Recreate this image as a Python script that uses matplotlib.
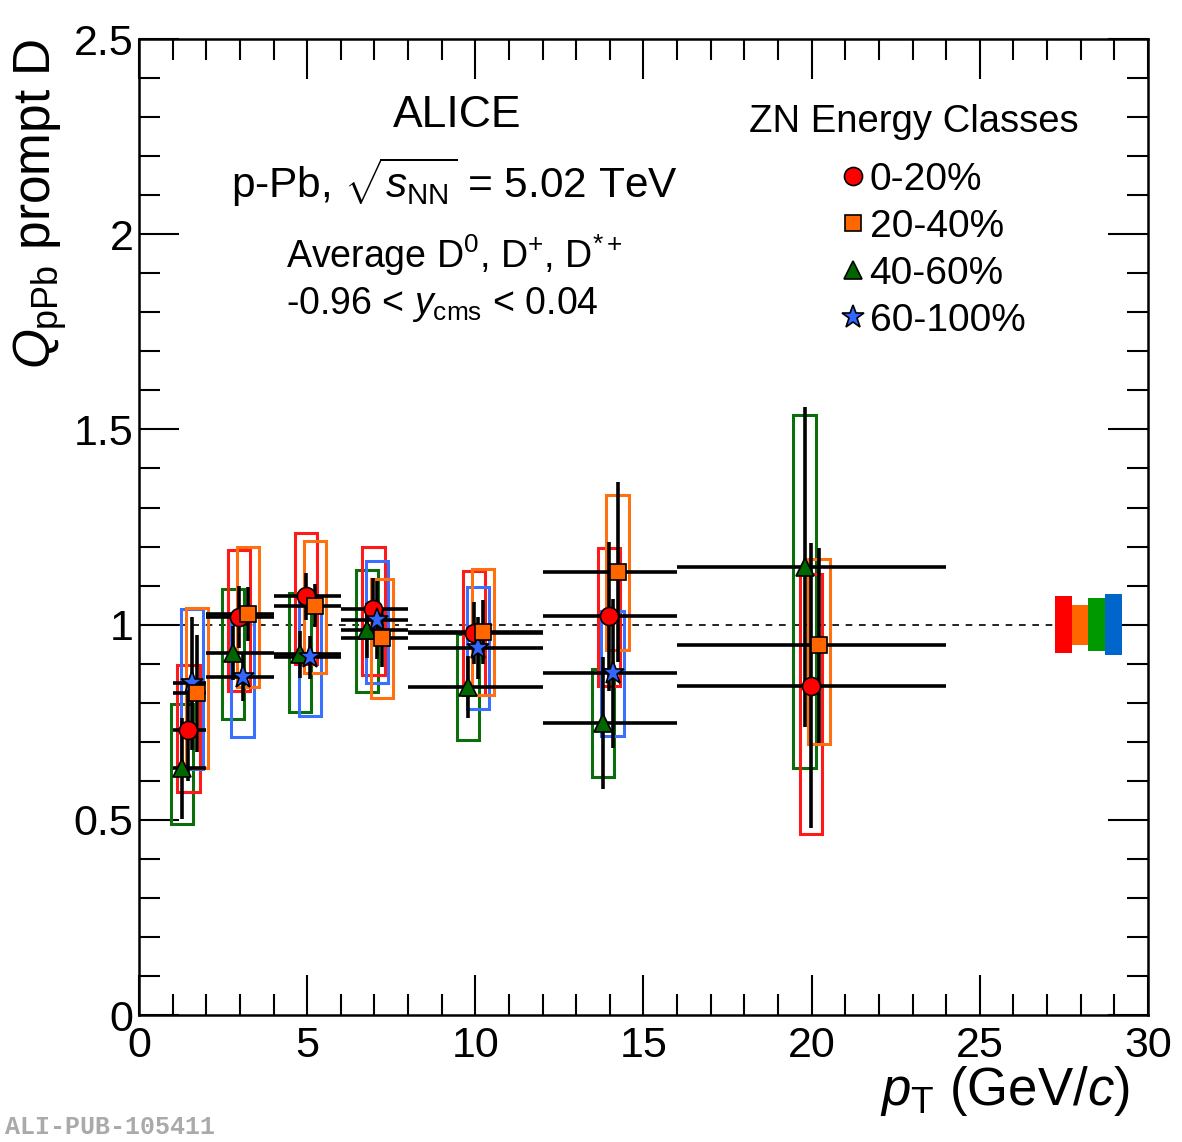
import numpy as np
import matplotlib
matplotlib.use("Agg")
import matplotlib.pyplot as plt
from matplotlib.patches import Rectangle
from matplotlib.lines import Line2D
from matplotlib.ticker import MultipleLocator, FuncFormatter

plt.rcParams['font.family'] = ['Liberation Sans', 'DejaVu Sans']
plt.rcParams['mathtext.fontset'] = 'custom'
plt.rcParams['mathtext.rm'] = 'Liberation Sans'
plt.rcParams['mathtext.it'] = 'Liberation Sans:italic'
plt.rcParams['mathtext.bf'] = 'Liberation Sans:bold'

# ------------------------------------------------------------------
# dati: bin in pT e Q_pPb per le quattro classi ZN
# ------------------------------------------------------------------
bin_lo = [1, 2, 4, 6, 8, 12, 16]
bin_hi = [2, 4, 6, 8, 12, 16, 24]

class_labels = ['0-20%', '20-40%', '40-60%', '60-100%']

q_0_20 = [0.730, 1.020, 1.073, 1.040, 0.979, 1.021, 0.843]
stat_0_20 = [0.13, 0.08, 0.06, 0.08, 0.08, 0.19, 0.365]
syslo_0_20 = [0.160, 0.190, 0.174, 0.170, 0.160, 0.179, 0.380]
syshi_0_20 = [0.166, 0.170, 0.162, 0.160, 0.159, 0.175, 0.286]

q_20_40 = [0.824, 1.027, 1.048, 0.967, 0.981, 1.135, 0.947]
stat_20_40 = [0.15, 0.07, 0.055, 0.075, 0.083, 0.23, 0.25]
syslo_20_40 = [0.192, 0.187, 0.173, 0.154, 0.162, 0.201, 0.253]
syshi_20_40 = [0.218, 0.171, 0.165, 0.151, 0.161, 0.196, 0.220]

q_40_60 = [0.632, 0.927, 0.924, 0.985, 0.840, 0.748, 1.148]
stat_40_60 = [0.13, 0.07, 0.06, 0.07, 0.08, 0.17, 0.41]
syslo_40_60 = [0.142, 0.169, 0.148, 0.158, 0.136, 0.138, 0.516]
syshi_40_60 = [0.164, 0.163, 0.156, 0.154, 0.135, 0.138, 0.389]

q_60_100 = [0.850, 0.865, 0.916, 1.011, 0.940, 0.875]
stat_60_100 = [0.17, 0.06, 0.055, 0.10, 0.08, 0.19]
syslo_60_100 = [0.220, 0.153, 0.151, 0.160, 0.157, 0.161]
syshi_60_100 = [0.190, 0.155, 0.154, 0.152, 0.156, 0.159]

# incertezze di normalizzazione (box pieni a destra)
norm_unc = [0.073, 0.051, 0.068, 0.078]

series = [
    # valori, stat, sys-, sys+, marker, colore, colore box, spostamento in x, ms
    (q_40_60, stat_40_60, syslo_40_60, syshi_40_60, '^', '#006600', '#0a6e0a', -0.21, 13),
    (q_0_20, stat_0_20, syslo_0_20, syshi_0_20, 'o', '#ff0000', '#ff1a1a', -0.03, 13),
    (q_60_100, stat_60_100, syslo_60_100, syshi_60_100, '*', '#3366ff', '#3a70ff', 0.08, 17),
    (q_20_40, stat_20_40, syslo_20_40, syshi_20_40, 's', '#ff6600', '#ff7010', 0.23, 12),
]
norm_colors = ['#ff0000', '#ff6600', '#009900', '#0066cc']
box_w = 0.66

fig = plt.figure(figsize=(11.82, 11.42), dpi=100)
ax = fig.add_axes([0.1176, 0.1112, 0.8536, 0.8546])

ax.axhline(1, color='k', lw=1.2, ls=(0, (4, 4)), zorder=1)

for vals, st, slo, shi, mk, col, bcol, dx, ms in series:
    n = len(vals)
    lo = np.array(bin_lo[:n], dtype=float)
    hi = np.array(bin_hi[:n], dtype=float)
    x = (lo + hi) / 2 + dx
    y = np.array(vals)
    for xi, yi, a, b in zip(x, y, slo, shi):
        ax.add_patch(Rectangle((xi - box_w / 2, yi - a), box_w, a + b,
                               fill=False, ec=bcol, lw=2.2, zorder=2))
    ax.errorbar(x, y, yerr=st, xerr=[x - lo, hi - x], fmt='none',
                ecolor='k', elinewidth=2.6, capsize=0, zorder=3)
    ax.plot(x, y, ls='none', marker=mk, ms=ms, mfc=col, mec='k', mew=1.2, zorder=4)

# box di normalizzazione globale
for i, (u, c) in enumerate(zip(norm_unc, norm_colors)):
    ax.add_patch(Rectangle((27.23 + 0.5 * i, 1 - u), 0.5, 2 * u, fc=c, ec='none', zorder=5))

ax.set_xlim(0, 30)
ax.set_ylim(0, 2.5)
ax.xaxis.set_major_locator(MultipleLocator(5))
ax.xaxis.set_minor_locator(MultipleLocator(1))
ax.yaxis.set_major_locator(MultipleLocator(0.5))
ax.yaxis.set_minor_locator(MultipleLocator(0.1))
fmt = FuncFormatter(lambda v, p: '%g' % v)
ax.xaxis.set_major_formatter(fmt)
ax.yaxis.set_major_formatter(fmt)
ax.tick_params(which='both', direction='in', top=True, right=True, width=1.5, labelsize=31)
ax.tick_params(axis='x', which='major', length=29, pad=8)
ax.tick_params(axis='y', which='major', length=29, pad=4)
ax.tick_params(which='minor', length=15)
for s in ax.spines.values():
    s.set_linewidth(1.8)

ax.set_xlabel(r'$p_{\rm T}$ (GeV/$c$)', fontsize=38, ha='right')
ax.xaxis.set_label_coords(0.982, -0.05)
ax.set_ylabel(r'$Q_{\rm pPb}$ prompt D', fontsize=37, ha='right')
ax.yaxis.set_label_coords(-0.069, 1.0)

ax.text(0.315, 0.910, 'ALICE', transform=ax.transAxes, fontsize=32, ha='center', va='baseline')
ax.text(0.313, 0.837, r'p-Pb, $\sqrt{s_{\rm NN}}$ = 5.02 TeV', transform=ax.transAxes,
        fontsize=30.5, ha='center', va='baseline')
ax.text(0.146, 0.765, r'Average D$^{0}$, D$^{+}$, D$^{*+}$', transform=ax.transAxes,
        fontsize=27, ha='left', va='baseline')
ax.text(0.146, 0.718, r'-0.96 < $y_{\rm cms}$ < 0.04', transform=ax.transAxes,
        fontsize=27, ha='left', va='baseline')

# legenda: titolo a parte, voci sotto
ax.text(0.768, 0.905, 'ZN Energy Classes', transform=ax.transAxes, fontsize=27.5,
        ha='center', va='baseline')
handles = [
    Line2D([], [], ls='none', marker='o', ms=13, mfc='#ff0000', mec='k', mew=1.2),
    Line2D([], [], ls='none', marker='s', ms=12, mfc='#ff6600', mec='k', mew=1.2),
    Line2D([], [], ls='none', marker='^', ms=13, mfc='#006600', mec='k', mew=1.2),
    Line2D([], [], ls='none', marker='*', ms=17, mfc='#3366ff', mec='k', mew=1.2),
]
ax.legend(handles, class_labels, loc='upper left',
          bbox_to_anchor=(0.677, 0.894), frameon=False, fontsize=28,
          handlelength=0.6, handletextpad=0.12, labelspacing=0.28, borderpad=0)

fig.text(0.004, 0.003, 'ALI-PUB-105411', family=['Liberation Mono', 'DejaVu Sans Mono'],
         weight='bold', color='#aaaaaa', fontsize=18, ha='left', va='bottom')

fig.savefig('out.png', dpi=100)
